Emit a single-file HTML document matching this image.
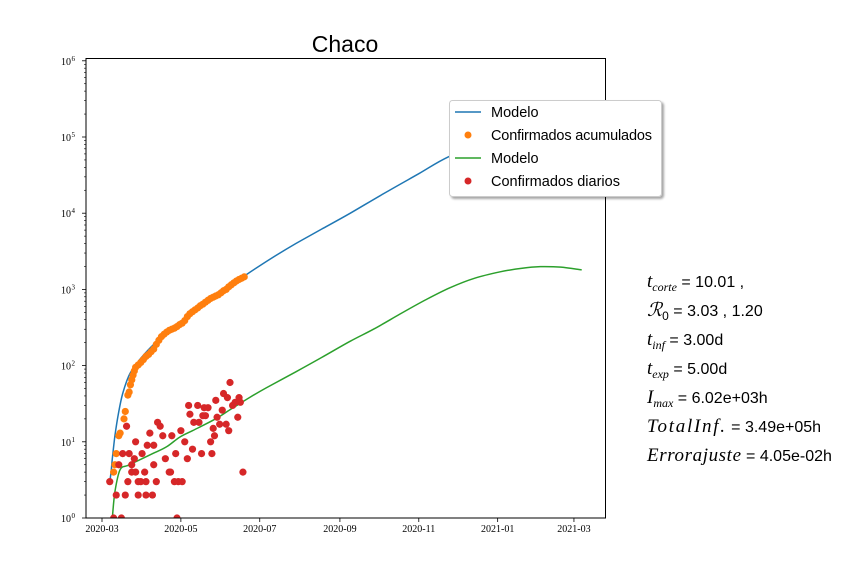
<!DOCTYPE html>
<html><head><meta charset="utf-8"><style>
body{margin:0;background:#fff;}
svg text{font-family:"Liberation Sans",sans-serif;}
.tk{font-family:"Liberation Serif",serif;font-size:10px;}
.m{font-family:"Liberation Serif",serif;font-style:italic;}
</style></head><body>
<svg id="chart" width="864" height="576" xmlns="http://www.w3.org/2000/svg">
<rect width="864" height="576" fill="#fff"/>
<text x="345" y="52" text-anchor="middle" font-size="23">Chaco</text>
<defs><clipPath id="clip"><rect x="86" y="58" width="520" height="460"/></clipPath>
<filter id="sh" x="-10%" y="-10%" width="130%" height="130%"><feDropShadow dx="2" dy="2" stdDeviation="1" flood-color="#000" flood-opacity="0.35"/></filter></defs>
<g id="marks" clip-path="url(#clip)"></g>
<rect x="86" y="58.5" width="519.5" height="459.5" fill="none" stroke="#000" stroke-width="1"/>
<g id="axes"></g>
<g>
<rect x="449.5" y="100.5" width="212" height="96" rx="3" fill="#fff" stroke="#ccc" filter="url(#sh)"/>
<line x1="455" y1="112" x2="481" y2="112" stroke="#1f77b4" stroke-width="1.5"/>
<text x="491" y="117" font-size="14.5">Modelo</text>
<circle cx="468" cy="135" r="3.5" fill="#ff7f0e"/>
<text x="491" y="140" font-size="14.5" textLength="161">Confirmados acumulados</text>
<line x1="455" y1="158" x2="481" y2="158" stroke="#2ca02c" stroke-width="1.5"/>
<text x="491" y="163" font-size="14.5">Modelo</text>
<circle cx="468" cy="181" r="3.5" fill="#d62728"/>
<text x="491" y="186" font-size="14.5">Confirmados diarios</text>
</g>
<g font-size="16">
<text x="647" y="287"><tspan class="m" font-size="19">t</tspan><tspan class="m" font-size="12" dy="4">corte</tspan><tspan dy="-4"> = 10.01 ,</tspan></text>
<text x="647" y="316"><tspan class="m" font-size="19">ℛ</tspan><tspan font-size="12" dy="4">0</tspan><tspan dy="-4"> = 3.03 , 1.20</tspan></text>
<text x="647" y="345"><tspan class="m" font-size="19">t</tspan><tspan class="m" font-size="12" dy="4">inf</tspan><tspan dy="-4"> = 3.00d</tspan></text>
<text x="647" y="374"><tspan class="m" font-size="19">t</tspan><tspan class="m" font-size="12" dy="4">exp</tspan><tspan dy="-4"> = 5.00d</tspan></text>
<text x="647" y="403"><tspan class="m" font-size="19">I</tspan><tspan class="m" font-size="12" dy="4">max</tspan><tspan dy="-4"> = 6.02e+03h</tspan></text>
<text x="647" y="432"><tspan class="m" font-size="19" textLength="78">TotalInf.</tspan><tspan> = 3.49e+05h</tspan></text>
<text x="647" y="461"><tspan class="m" font-size="19" textLength="94">Errorajuste</tspan><tspan> = 4.05e-02h</tspan></text>
</g>
</svg>
<script>
// days counted from 2020-03-01
const tickDays = [0, 61, 122, 184, 245, 306, 365];
const tickLabels = ["2020-03","2020-05","2020-07","2020-09","2020-11","2021-01","2021-03"];
const yDecades = [0,1,2,3,4,5,6];
const modelCumDays = [6,7,8,10,13,16,21,26,30,40,50,60,70,80,90,100,110,130,150,170,192,220,245,268,300,330,371];
const modelCumVals = [3,4,6,12,25,43,75,100,125,190,260,340,480,650,880,1150,1500,2500,4000,6200,10000,19000,33000,55000,90000,130000,180000];
const modelDayDays = [8,10,14,20,30,40,50,60,70,80,90,100,114,127,150,170,192,210,230,250,269,288,308,325,339,355,371];
const modelDayVals = [1,2.2,4.3,4.9,5.9,7.1,8.6,11.5,14,17,21,27,38,51,83,128,209,300,470,725,1050,1400,1700,1900,1990,1960,1800];
const cumDays = [9,10,11,13,14,17,18,20,21,22,23,24,25,26,28,30,32,34,36,38,40,42,44,46,48,50,52,54,56,58,60,62,64,66,68,70,72,74,76,78,80,82,84,86,88,90,92,94,96,98,100,102,104,106,108,110];
const cumVals = [4,5,7,12,13,20,25,41,45,56,65,75,85,95,102,110,120,132,140,152,165,190,215,240,258,275,290,300,310,325,345,360,390,440,480,510,540,570,610,640,680,720,760,790,820,850,900,960,1000,1080,1150,1220,1290,1350,1400,1460];
const dailyDays = [6,9,15,11,13,16,18,19,20,21,23,25,26,23,26,28,28,30,31,33,34,34,35,37,39,40,40,42,43,45,47,49,52,53,54,56,57,58,59,61,62,64,66,67,68,70,71,74,75,77,78,79,80,82,84,85,86,87,88,89,91,93,94,96,97,98,99,101,103,105,106,107,109];
const dailyVals = [3,1,1,2,5,7,2,16,3,7,5,6,10,4,4,3,2,3,7,4,2,3,9,13,2,9,5,3,18,16,12,6,4,4,12,3,7,1,3,14,3,10,6,30,23,8,18,30,18,7,22,28,22,28,10,7,15,12,35,21,17,26,43,17,38,14,60,30,33,21,38,33,4];

const NS = "http://www.w3.org/2000/svg";
const X0 = 102, PX_PER_DAY = 1.293, Y0 = 518, PX_PER_DEC = 76.2;
function xOf(d){ return X0 + d * PX_PER_DAY; }
function yOf(v){ return Y0 - Math.log10(v) * PX_PER_DEC; }
function mk(tag, attrs, parent){ const e = document.createElementNS(NS, tag); for (const k in attrs) e.setAttribute(k, attrs[k]); parent.appendChild(e); return e; }
const marks = document.getElementById('marks');
const axes = document.getElementById('axes');

function smoothPath(days, vals){
  const pts = days.map((d,i)=>[xOf(d), yOf(vals[i])]);
  let s = 'M' + pts[0][0].toFixed(1) + ',' + pts[0][1].toFixed(1);
  for (let i = 0; i < pts.length - 1; i++){
    const p0 = pts[Math.max(0,i-1)], p1 = pts[i], p2 = pts[i+1], p3 = pts[Math.min(pts.length-1,i+2)];
    const c1 = [p1[0] + (p2[0]-p0[0])/6, p1[1] + (p2[1]-p0[1])/6];
    const c2 = [p2[0] - (p3[0]-p1[0])/6, p2[1] - (p3[1]-p1[1])/6];
    s += 'C' + c1.map(v=>v.toFixed(1)).join(',') + ' ' + c2.map(v=>v.toFixed(1)).join(',') + ' ' + p2.map(v=>v.toFixed(1)).join(',');
  }
  return s;
}
function line(days, vals, color, name){
  const p = mk('path', {d: smoothPath(days, vals), fill:'none', stroke:color, 'stroke-width':1.5}, marks);
  
  
}
function dots(days, vals, color, name){
  days.forEach((d,i)=>{
    const c = mk('circle', {cx:xOf(d), cy:yOf(vals[i]), r:3.6, fill:color}, marks);
    
    
  });
}
line(modelCumDays, modelCumVals, '#1f77b4', 'model-cumulative-line');
dots(cumDays, cumVals, '#ff7f0e', 'cumulative-point');
line(modelDayDays, modelDayVals, '#2ca02c', 'model-daily-line');
dots(dailyDays, dailyVals, '#d62728', 'daily-point');

tickDays.forEach((d,i)=>{
  const x = xOf(d);
  const t = mk('line', {x1:x, y1:518, x2:x, y2:522, stroke:'#000', 'stroke-width':0.8}, axes);
  
  
  const l = mk('text', {x:x, y:532, 'text-anchor':'middle', class:'tk'}, axes);
  
  
  l.textContent = tickLabels[i];
});
yDecades.forEach(e=>{
  const y = Y0 - e * PX_PER_DEC;
  const t = mk('line', {x1:82, y1:y, x2:86, y2:y, stroke:'#000', 'stroke-width':0.8}, axes);
  
  
  const l = mk('text', {x:71, y:y+4, 'text-anchor':'end', class:'tk'}, axes);
  
  
  l.textContent = '10';
  const s = mk('tspan', {x:71.5, dy:-4, 'font-size':7, 'text-anchor':'start'}, l);
  s.textContent = String(e);
  if (e < 6) for (let m = 2; m <= 9; m++){
    const ym = Y0 - (e + Math.log10(m)) * PX_PER_DEC;
    const mt = mk('line', {x1:84, y1:ym, x2:86, y2:ym, stroke:'#000', 'stroke-width':0.6}, axes);
    
    
  }
});
</script>
</body></html>
